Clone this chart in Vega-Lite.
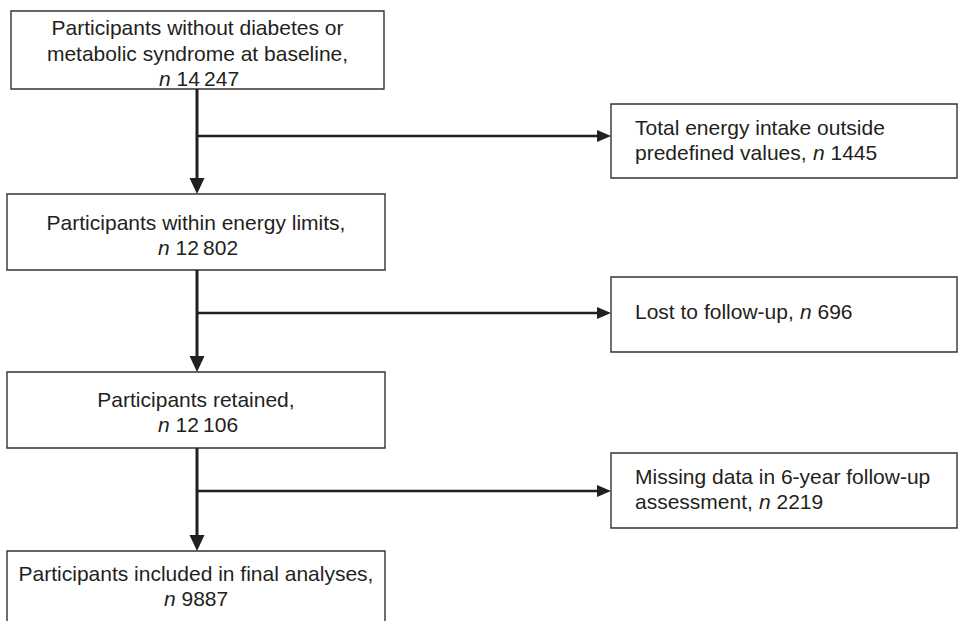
{
  "$schema": "https://vega.github.io/schema/vega-lite/v6.json",
  "width": 958,
  "height": 621,
  "padding": 0,
  "autosize": "none",
  "background": "white",
  "config": {"view": {"stroke": null}},
  "datasets": {
    "boxes": [
      {"id": "baseline", "x": 11, "x2": 384, "y": 11, "y2": 89},
      {"id": "energy", "x": 7, "x2": 385, "y": 194, "y2": 270},
      {"id": "retained", "x": 7, "x2": 385, "y": 372, "y2": 448},
      {"id": "final", "x": 7, "x2": 385, "y": 551, "y2": 640},
      {"id": "excl_energy", "x": 611, "x2": 957, "y": 104, "y2": 178},
      {"id": "excl_lost", "x": 611, "x2": 957, "y": 277, "y2": 352},
      {"id": "excl_missing", "x": 611, "x2": 957, "y": 453, "y2": 528}
    ],
    "links": [
      {"dir": "down", "x": 197, "x2": 197, "y": 89, "y2": 190},
      {"dir": "down", "x": 197, "x2": 197, "y": 270, "y2": 368},
      {"dir": "down", "x": 197, "x2": 197, "y": 448, "y2": 547},
      {"dir": "right", "x": 197, "x2": 605, "y": 136, "y2": 136},
      {"dir": "right", "x": 197, "x2": 605, "y": 313, "y2": 313},
      {"dir": "right", "x": 197, "x2": 605, "y": 491, "y2": 491}
    ],
    "tips": [
      {"dir": "down", "x": 197, "y": 194},
      {"dir": "down", "x": 197, "y": 372},
      {"dir": "down", "x": 197, "y": 551},
      {"dir": "right", "x": 611, "y": 136},
      {"dir": "right", "x": 611, "y": 313},
      {"dir": "right", "x": 611, "y": 491}
    ],
    "labels": [
      {"part": "center", "text": "Participants without diabetes or", "x": 197.5, "y": 35},
      {"part": "center", "text": "metabolic syndrome at baseline,", "x": 197.5, "y": 61},
      {"part": "n", "text": "n", "x": 159, "y": 86},
      {"part": "left", "text": "14\u2009247", "x": 176.5, "y": 86},
      {"part": "center", "text": "Participants within energy limits,", "x": 196, "y": 230},
      {"part": "n", "text": "n", "x": 158, "y": 255},
      {"part": "left", "text": "12\u2009802", "x": 175.5, "y": 255},
      {"part": "center", "text": "Participants retained,", "x": 196, "y": 407},
      {"part": "n", "text": "n", "x": 158, "y": 432},
      {"part": "left", "text": "12\u2009106", "x": 175.5, "y": 432},
      {"part": "center", "text": "Participants included in final analyses,", "x": 196, "y": 581},
      {"part": "n", "text": "n", "x": 164, "y": 606},
      {"part": "left", "text": "9887", "x": 181.5, "y": 606},
      {"part": "left", "text": "Total energy intake outside", "x": 635, "y": 135},
      {"part": "left", "text": "predefined values,", "x": 635, "y": 160},
      {"part": "n", "text": "n", "x": 813, "y": 160},
      {"part": "left", "text": "1445", "x": 830.5, "y": 160},
      {"part": "left", "text": "Lost to follow-up,", "x": 635, "y": 319},
      {"part": "n", "text": "n", "x": 800, "y": 319},
      {"part": "left", "text": "696", "x": 817.5, "y": 319},
      {"part": "left", "text": "Missing data in 6-year follow-up", "x": 635, "y": 484},
      {"part": "left", "text": "assessment,", "x": 635, "y": 509},
      {"part": "n", "text": "n", "x": 759, "y": 509},
      {"part": "left", "text": "2219", "x": 776.5, "y": 509}
    ]
  },
  "layer": [
    {
      "data": {"name": "boxes"},
      "mark": {"type": "rect", "fill": "white", "stroke": "#333333", "strokeWidth": 1.4, "clip": true},
      "encoding": {
        "x": {"field": "x", "type": "quantitative", "scale": {"domain": [0, 958], "nice": false, "zero": false}, "axis": null},
        "x2": {"field": "x2"},
        "y": {"field": "y", "type": "quantitative", "scale": {"domain": [0, 621], "nice": false, "zero": false, "reverse": true}, "axis": null},
        "y2": {"field": "y2"}
      }
    },
    {
      "data": {"name": "links"},
      "transform": [{"filter": "datum.dir === 'down'"}],
      "mark": {"type": "rule", "color": "#231f20", "strokeWidth": 3},
      "encoding": {
        "x": {"field": "x", "type": "quantitative", "scale": {"domain": [0, 958], "nice": false, "zero": false}, "axis": null},
        "x2": {"field": "x2"},
        "y": {"field": "y", "type": "quantitative", "scale": {"domain": [0, 621], "nice": false, "zero": false, "reverse": true}, "axis": null},
        "y2": {"field": "y2"}
      }
    },
    {
      "data": {"name": "links"},
      "transform": [{"filter": "datum.dir === 'right'"}],
      "mark": {"type": "rule", "color": "#231f20", "strokeWidth": 2.5},
      "encoding": {
        "x": {"field": "x", "type": "quantitative", "scale": {"domain": [0, 958], "nice": false, "zero": false}, "axis": null},
        "x2": {"field": "x2"},
        "y": {"field": "y", "type": "quantitative", "scale": {"domain": [0, 621], "nice": false, "zero": false, "reverse": true}, "axis": null},
        "y2": {"field": "y2"}
      }
    },
    {
      "data": {"name": "tips"},
      "mark": {"type": "point", "filled": true, "size": 256, "opacity": 1, "color": "#231f20", "strokeWidth": 0},
      "encoding": {
        "x": {"field": "x", "type": "quantitative", "scale": {"domain": [0, 958], "nice": false, "zero": false}, "axis": null},
        "y": {"field": "y", "type": "quantitative", "scale": {"domain": [0, 621], "nice": false, "zero": false, "reverse": true}, "axis": null},
        "shape": {
          "field": "dir",
          "type": "nominal",
          "scale": {"domain": ["down", "right"], "range": ["M0,0L-0.9375,-2L0.9375,-2Z", "M0,0L-1.75,-0.75L-1.75,0.75Z"]},
          "legend": null
        }
      }
    },
    {
      "data": {"name": "labels"},
      "transform": [{"filter": "datum.part === 'center'"}],
      "mark": {"type": "text", "align": "center", "baseline": "alphabetic", "font": "Liberation Sans", "fontSize": 21, "color": "#231f20"},
      "encoding": {
        "x": {"field": "x", "type": "quantitative", "scale": {"domain": [0, 958], "nice": false, "zero": false}, "axis": null},
        "y": {"field": "y", "type": "quantitative", "scale": {"domain": [0, 621], "nice": false, "zero": false, "reverse": true}, "axis": null},
        "text": {"field": "text"}
      }
    },
    {
      "data": {"name": "labels"},
      "transform": [{"filter": "datum.part === 'left'"}],
      "mark": {"type": "text", "align": "left", "baseline": "alphabetic", "font": "Liberation Sans", "fontSize": 21, "color": "#231f20"},
      "encoding": {
        "x": {"field": "x", "type": "quantitative", "scale": {"domain": [0, 958], "nice": false, "zero": false}, "axis": null},
        "y": {"field": "y", "type": "quantitative", "scale": {"domain": [0, 621], "nice": false, "zero": false, "reverse": true}, "axis": null},
        "text": {"field": "text"}
      }
    },
    {
      "data": {"name": "labels"},
      "transform": [{"filter": "datum.part === 'n'"}],
      "mark": {"type": "text", "align": "left", "baseline": "alphabetic", "font": "Liberation Sans", "fontSize": 21, "fontStyle": "italic", "color": "#231f20"},
      "encoding": {
        "x": {"field": "x", "type": "quantitative", "scale": {"domain": [0, 958], "nice": false, "zero": false}, "axis": null},
        "y": {"field": "y", "type": "quantitative", "scale": {"domain": [0, 621], "nice": false, "zero": false, "reverse": true}, "axis": null},
        "text": {"field": "text"}
      }
    }
  ]
}
